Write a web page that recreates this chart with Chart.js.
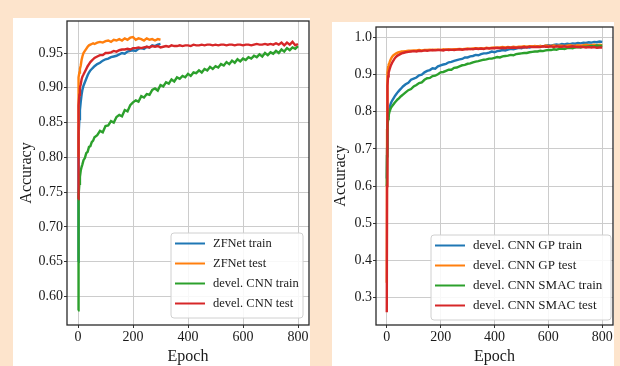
<!DOCTYPE html>
<html>
<head>
<meta charset="utf-8">
<script src="https://cdn.jsdelivr.net/npm/chart.js@4.4.1/dist/chart.umd.min.js"></script>
<style>
html, body { margin: 0; padding: 0; width: 620px; height: 366px; overflow: hidden; background: #fde4cc; }
.panel { position: absolute; background: #fff; }
#p1 { left: 13px; top: 18px; width: 297px; height: 348px; }
#p2 { left: 332px; top: 22px; width: 282px; height: 344px; }
canvas { position: absolute; top: 0; }
#c1 { left: 0; }
#c2 { left: 320px; }
</style>
</head>
<body>
<div class="panel" id="p1"></div>
<div class="panel" id="p2"></div>
<canvas id="c1" width="320" height="366"></canvas>
<canvas id="c2" width="300" height="366"></canvas>
<script>
let epochsShort = [0,1,2,3,5,7,10,13,16,20,25,30,35,40,45,50,55,60,
   70,80,90,100,110,120,130,140,150,160,170,180,190,200,210,220,230,240,250,260,270,280,290,300];
let epochsLong = [0,1,2,3,5,7,10,13,16,20,25,30,35,40,45,50,55,60,
   70,80,90,100,110,120,130,140,150,160,170,180,190,200,210,220,230,240,250,260,
   270,280,290,300,310,320,330,340,350,360,370,380,390,400,410,420,430,440,450,460,
   470,480,490,500,510,520,530,540,550,560,570,580,590,600,610,620,630,640,650,660,
   670,680,690,700,710,720,730,740,750,760,770,780,790,800];

let xTicks = [0, 200, 400, 600, 800];
let yTicksLeft = [0.60, 0.65, 0.70, 0.75, 0.80, 0.85, 0.90, 0.95];
let yTicksRight = [0.3, 0.4, 0.5, 0.6, 0.7, 0.8, 0.9, 1.0];

// left chart
let zfTrain = [.65,.74,.80,.83,.855,.868,.88,.89,.897,.903,.908,.913,.918,.922,.925,.927,.929,.931,
   .934,.936,.939,.941,.942,.944,.945,.946,.948,.950,
   .949,.952,.953,.954,.953,.956,.957,.956,.959,.958,
   .961,.960,.962,.963];
let zfTest = [.80,.86,.90,.915,.922,.927,.932,.940,.945,.950,.953,.956,.959,.961,.962,.963,.964,.963,
   .965,.966,.965,.967,.968,.966,.969,.968,.970,.968,
   .971,.969,.972,.973,.969,.971,.970,.968,.971,.969,
   .970,.968,.970,.969];
let cnnTrain = [.58,.66,.72,.745,.762,.772,.781,.786,.790,.796,.799,.806,.808,.815,.816,.822,.824,.829,
   .832,.838,.836,.845,.846,.852,.850,.858,.861,.859,
   .868,.866,.875,.879,.882,.880,.888,.886,.891,.890,
   .897,.899,.896,.904,.902,.908,.906,.912,.909,.915,
   .913,.917,.915,.920,.917,.922,.921,.925,.922,.927,
   .925,.930,.927,.931,.929,.934,.932,.937,.934,.939,
   .936,.941,.938,.942,.940,.944,.942,.946,.944,.948,
   .945,.950,.947,.951,.949,.953,.950,.955,.952,.957,
   .954,.958,.956,.960];
let cnnTest = [.74,.80,.86,.875,.89,.90,.905,.912,.916,.919,.923,.927,.931,.934,.937,.939,.941,.943,
   .945,.947,.947,.950,.950,.951,.953,.952,.954,.955,
   .955,.956,.955,.957,.957,.958,.957,.958,.959,.958,
   .960,.959,.960,.958,.959,.960,.959,.961,.960,.960,
   .961,.960,.961,.961,.960,.962,.961,.961,.962,.961,
   .962,.962,.961,.962,.961,.962,.962,.961,.962,.962,
   .961,.962,.962,.961,.962,.962,.961,.962,.963,.962,
   .962,.963,.962,.963,.962,.964,.962,.965,.961,.965,
   .962,.966,.961,.963];

// right chart
let gpTrain = [.62,.70,.75,.775,.79,.80,.81,.818,.824,.83,.836,.842,.847,.852,.856,.860,.864,.868,
   .874,.878,.886,.889,.892,.898,.900,.906,.910,.912,
   .917,.916,.922,.925,.927,.929,.933,.934,.937,.939,
   .941,.942,.946,.946,.949,.950,.953,.952,.955,.957,
   .957,.959,.962,.960,.963,.964,.966,.965,.967,.969,
   .968,.970,.972,.971,.973,.974,.973,.975,.976,.975,
   .977,.976,.978,.979,.978,.980,.981,.980,.982,.981,
   .983,.982,.984,.983,.985,.984,.986,.985,.987,.986,
   .988,.987,.989,.988];
let gpTest = [.34,.75,.88,.905,.92,.927,.932,.938,.943,.948,.952,.955,.957,.959,.960,.961,.962,.962,
   .963,.964,.964,.965,.965,.966,.965,.966,.966,.967,
   .966,.967,.967,.966,.968,.967,.968,.967,.968,.968,
   .969,.968,.969,.970,.969,.970,.971,.970,.971,.970,
   .972,.971,.972,.973,.972,.973,.974,.973,.974,.973,
   .975,.974,.975,.975,.976,.975,.976,.976,.977,.976,
   .977,.976,.978,.977,.977,.978,.977,.978,.978,.977,
   .978,.979,.978,.978,.979,.978,.979,.980,.979,.979,
   .980,.979,.980,.979];
let smacTrain = [.60,.68,.73,.76,.78,.79,.80,.806,.811,.815,.82,.825,.829,.833,.836,.840,.843,.846,
   .852,.858,.861,.868,.872,.877,.879,.886,.890,.891,
   .896,.897,.901,.906,.907,.910,.913,.913,.918,.919,
   .922,.925,.926,.929,.930,.933,.935,.936,.938,.940,
   .941,.943,.943,.945,.947,.946,.949,.950,.951,.953,
   .952,.955,.956,.957,.958,.958,.960,.961,.962,.962,
   .964,.963,.965,.966,.966,.968,.967,.969,.970,.969,
   .971,.972,.971,.973,.974,.973,.975,.975,.976,.977,
   .976,.978,.977,.978];
let smacTest = [.26,.60,.82,.87,.895,.905,.913,.92,.926,.932,.938,.944,.948,.951,.953,.955,.957,.958,
   .960,.961,.962,.963,.962,.964,.963,.965,.964,.965,
   .966,.965,.966,.966,.965,.967,.966,.967,.966,.967,
   .968,.967,.968,.968,.969,.968,.970,.969,.970,.969,
   .971,.970,.971,.971,.972,.971,.972,.971,.973,.972,
   .973,.972,.973,.973,.974,.973,.975,.974,.974,.975,
   .974,.976,.975,.975,.976,.974,.976,.975,.975,.976,
   .974,.975,.976,.975,.974,.975,.974,.973,.974,.973,
   .974,.972,.973,.973];

const BLUE = '#1f77b4', ORANGE = '#ff7f0e', GREEN = '#2ca02c', RED = '#d62728';
const SERIF = "'Liberation Serif', 'DejaVu Serif', serif";

function pts(xs, ys) {
   return xs.map((x, i) => ({ x: x, y: ys[i] }));
}

function line(label, xs, ys, color, order) {
   return { label: label, data: pts(xs, ys), borderColor: color, backgroundColor: color,
      borderWidth: 2.4, pointRadius: 0, tension: 0, fill: false, order: order };
}

// black box round the plot area, like matplotlib spines
const frame = {
   id: 'frame',
   afterDatasetsDraw(chart) {
      const a = chart.chartArea, ctx = chart.ctx;
      ctx.save();
      ctx.strokeStyle = '#2a2a2a';
      ctx.lineWidth = 1.3;
      ctx.strokeRect(a.left, a.top, a.right - a.left, a.bottom - a.top);
      ctx.restore();
   }
};

// legend box inside the lower right corner
const boxLegend = {
   id: 'boxLegend',
   afterDraw(chart, args, opts) {
      const a = chart.chartArea, ctx = chart.ctx;
      const x = a.right - opts.right - opts.width;
      const y = a.bottom - opts.bottom - opts.height;
      ctx.save();
      ctx.beginPath();
      ctx.roundRect(x, y, opts.width, opts.height, 3);
      ctx.fillStyle = 'rgba(255,255,255,0.85)';
      ctx.fill();
      ctx.strokeStyle = '#d0d0d0';
      ctx.lineWidth = 1;
      ctx.stroke();
      ctx.font = opts.size + 'px ' + SERIF;
      ctx.textBaseline = 'middle';
      chart.data.datasets.forEach((ds, i) => {
         const yy = y + 10.5 + i * 20;
         ctx.strokeStyle = ds.borderColor;
         ctx.lineWidth = 2;
         ctx.beginPath();
         ctx.moveTo(x + 4, yy);
         ctx.lineTo(x + 34, yy);
         ctx.stroke();
         ctx.fillStyle = '#1a1a1a';
         ctx.fillText(ds.label, x + 42, yy);
      });
      ctx.restore();
   }
};

function makeOptions(cfg) {
   return {
      responsive: false,
      animation: false,
      layout: { padding: cfg.padding },
      plugins: {
         legend: { display: false },
         tooltip: { enabled: false },
         boxLegend: cfg.legend
      },
      scales: {
         x: {
            type: 'linear',
            min: -40, max: 840,
            afterBuildTicks: axis => { axis.ticks = xTicks.map(v => ({ value: v })); },
            afterFit: axis => { axis.height = 41; },
            grid: { color: '#cccccc', lineWidth: 1, tickColor: '#333', tickLength: 3 },
            border: { display: false },
            ticks: { font: { family: SERIF, size: 14 }, color: '#1a1a1a', padding: 1, maxRotation: 0 },
            title: { display: true, text: 'Epoch', font: { family: SERIF, size: 16 }, color: '#1a1a1a',
               padding: { top: 0, bottom: 0 } }
         },
         y: {
            min: cfg.ymin, max: cfg.ymax,
            afterBuildTicks: axis => { axis.ticks = cfg.yTicks.map(v => ({ value: v })); },
            afterFit: axis => { axis.width = cfg.yWidth; },
            grid: { color: '#cccccc', lineWidth: 1, tickColor: '#333', tickLength: 3 },
            border: { display: false },
            ticks: { font: { family: SERIF, size: 14 }, color: '#1a1a1a', padding: 1,
               callback: v => v.toFixed(cfg.decimals) },
            title: { display: true, text: 'Accuracy', font: { family: SERIF, size: 16 }, color: '#1a1a1a' }
         }
      }
   };
}

new Chart(document.getElementById('c1'), {
   type: 'line',
   data: {
      datasets: [
         line('ZFNet train', epochsShort, zfTrain, BLUE, 4),
         line('ZFNet test', epochsShort, zfTest, ORANGE, 3),
         line('devel. CNN train', epochsLong, cnnTrain, GREEN, 2),
         line('devel. CNN test', epochsLong, cnnTest, RED, 1)
      ]
   },
   options: makeOptions({
      padding: { left: 13, top: 21, right: 11, bottom: 0 },
      ymin: 0.559, ymax: 0.996, yTicks: yTicksLeft, decimals: 2, yWidth: 54,
      legend: { right: 6, bottom: 7, width: 132, height: 85, size: 12.5 }
   }),
   plugins: [frame, boxLegend]
});

new Chart(document.getElementById('c2'), {
   type: 'line',
   data: {
      datasets: [
         line('devel. CNN GP train', epochsLong, gpTrain, BLUE, 4),
         line('devel. CNN GP test', epochsLong, gpTest, ORANGE, 3),
         line('devel. CNN SMAC train', epochsLong, smacTrain, GREEN, 2),
         line('devel. CNN SMAC test', epochsLong, smacTest, RED, 1)
      ]
   },
   options: makeOptions({
      padding: { left: 7, top: 27, right: 7, bottom: 0 },
      ymin: 0.226, ymax: 1.028, yTicks: yTicksRight, decimals: 1, yWidth: 49,
      legend: { right: 2, bottom: 5, width: 180, height: 85, size: 13 }
   }),
   plugins: [frame, boxLegend]
});
</script>
</body>
</html>
